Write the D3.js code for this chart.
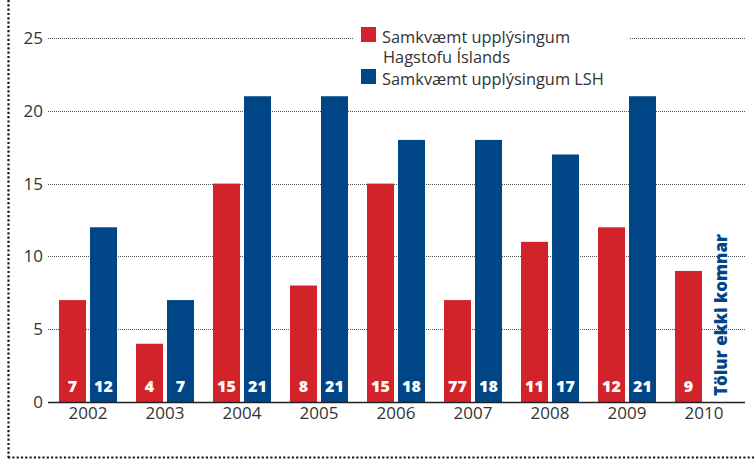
<!DOCTYPE html>
<html>
<head>
<meta charset="utf-8">
<script src="https://cdn.jsdelivr.net/npm/d3@7"></script>
<style>
  body { margin: 0; background: #fff; }
  svg { display: block; font-family: "Open Sans", "Noto Sans", sans-serif; }
</style>
</head>
<body>
<div id="chart"></div>
<script>
// Data
var years = ["2002", "2003", "2004", "2005", "2006", "2007", "2008", "2009", "2010"];
var hagstofa = [7, 4, 15, 8, 15, 7, 11, 12, 9];
var hagstofaLabels = ["7", "4", "15", "8", "15", "77", "11", "12", "9"];
var lsh = [12, 7, 21, 21, 18, 18, 17, 21, null];
var yTicks = [0, 5, 10, 15, 20, 25];
var seriesNames = [["Samkvæmt upplýsingum", "Hagstofu Íslands"], ["Samkvæmt upplýsingum LSH"]];

var red = "#d2232b";
var blue = "#004687";

var svgWidth = 754;
var svgHeight = 464;

var svg = d3.select("#chart")
  .append("svg")
    .attr("width", svgWidth)
    .attr("height", svgHeight);

// scales
var x0 = d3.scaleBand()
  .domain(years)
  .range([49.5, 49.5 + 9 * 77])
  .paddingInner(0.247)
  .paddingOuter(0.1235);

var x1 = d3.scaleBand()
  .domain(["h", "l"])
  .range([0, x0.bandwidth()])
  .paddingInner(0.129);

var y = d3.scaleLinear()
  .domain([0, 25])
  .range([402, 38]);

// dotted frame, left and bottom
svg.append("line")
  .attr("x1", 8.5).attr("x2", 8.5)
  .attr("y1", 0).attr("y2", 458)
  .attr("stroke", "#1a1a1a")
  .attr("stroke-width", 2.2)
  .attr("stroke-dasharray", "2.2,2.1");
svg.append("line")
  .attr("x1", 8).attr("x2", 754)
  .attr("y1", 457.5).attr("y2", 457.5)
  .attr("stroke", "#1a1a1a")
  .attr("stroke-width", 2.2)
  .attr("stroke-dasharray", "2.2,2.1");

// gridlines
svg.selectAll(".grid")
  .data(yTicks.slice(1))
  .enter()
  .append("line")
  .attr("class", "grid")
  .attr("x1", 48).attr("x2", 745)
  .attr("y1", function(d) { return Math.round(y(d)) + 0.5; })
  .attr("y2", function(d) { return Math.round(y(d)) + 0.5; })
  .attr("stroke", "#555")
  .attr("stroke-width", 1)
  .attr("stroke-dasharray", "1,1");

// y tick labels
svg.selectAll(".ytick")
  .data(yTicks)
  .enter()
  .append("text")
  .attr("class", "ytick")
  .attr("x", 43)
  .attr("y", function(d) { return y(d) + 6; })
  .attr("text-anchor", "end")
  .attr("font-size", 17)
  .attr("fill", "#333")
  .text(function(d) { return d; });

// bars
var groups = svg.selectAll(".year")
  .data(years)
  .enter()
  .append("g")
  .attr("class", "year")
  .attr("transform", function(d) { return "translate(" + x0(d) + ",0)"; });

groups.append("rect")
  .attr("x", x1("h"))
  .attr("width", x1.bandwidth())
  .attr("y", function(d, i) { return y(hagstofa[i]); })
  .attr("height", function(d, i) { return y(0) - y(hagstofa[i]) + 1; })
  .attr("fill", red);

groups.filter(function(d, i) { return lsh[i] != null; })
  .append("rect")
  .attr("x", x1("l"))
  .attr("width", x1.bandwidth())
  .attr("y", function(d) { return y(lsh[years.indexOf(d)]); })
  .attr("height", function(d) { return y(0) - y(lsh[years.indexOf(d)]) + 1; })
  .attr("fill", blue);

// value labels inside bars
groups.append("text")
  .attr("x", x1("h") + x1.bandwidth() / 2)
  .attr("y", 392)
  .attr("text-anchor", "middle")
  .attr("font-size", 16)
  .attr("font-weight", 800)
  .attr("fill", "#fff")
  .text(function(d, i) { return hagstofaLabels[i]; });

groups.filter(function(d, i) { return lsh[i] != null; })
  .append("text")
  .attr("x", x1("l") + x1.bandwidth() / 2)
  .attr("y", 392)
  .attr("text-anchor", "middle")
  .attr("font-size", 16)
  .attr("font-weight", 800)
  .attr("fill", "#fff")
  .text(function(d) { return lsh[years.indexOf(d)]; });

// note for missing 2010 value
svg.append("text")
  .attr("transform", "translate(" + (x0("2010") + x1("l") + 21) + ",396) rotate(-90)")
  .attr("font-size", 17)
  .attr("font-weight", 800)
  .attr("fill", blue)
  .text("Tölur ekki komnar");

// baseline
svg.append("line")
  .attr("x1", 48).attr("x2", 745)
  .attr("y1", y(0) + 0.5).attr("y2", y(0) + 0.5)
  .attr("stroke", "#222")
  .attr("stroke-width", 1.5);

// year labels
svg.selectAll(".xlabel")
  .data(years)
  .enter()
  .append("text")
  .attr("class", "xlabel")
  .attr("x", function(d) { return x0(d) + x0.bandwidth() / 2; })
  .attr("y", 419)
  .attr("text-anchor", "middle")
  .attr("font-size", 17)
  .attr("fill", "#333")
  .text(function(d) { return d; });

// legend
var legend = svg.append("g");
legend.append("rect")
  .attr("x", 354).attr("y", 20)
  .attr("width", 276).attr("height", 72)
  .attr("fill", "#fff");

var legendTop = [27, 69];
var legendColors = [red, blue];

legend.selectAll(".swatch")
  .data(seriesNames)
  .enter()
  .append("rect")
  .attr("class", "swatch")
  .attr("x", 361)
  .attr("y", function(d, i) { return legendTop[i]; })
  .attr("width", 15).attr("height", 15)
  .attr("fill", function(d, i) { return legendColors[i]; });

var legendText = legend.selectAll(".ltext")
  .data(seriesNames)
  .enter()
  .append("text")
  .attr("class", "ltext")
  .attr("font-size", 16.4)
  .attr("fill", "#333");

legendText.selectAll("tspan")
  .data(function(d, i) { return d.map(function(line) { return { line: line, top: legendTop[i] }; }); })
  .enter()
  .append("tspan")
  .attr("x", function(d, j) { return 382 + j; })
  .attr("y", function(d, j) { return d.top + 16 + j * 20; })
  .text(function(d) { return d.line; });
</script>
</body>
</html>
